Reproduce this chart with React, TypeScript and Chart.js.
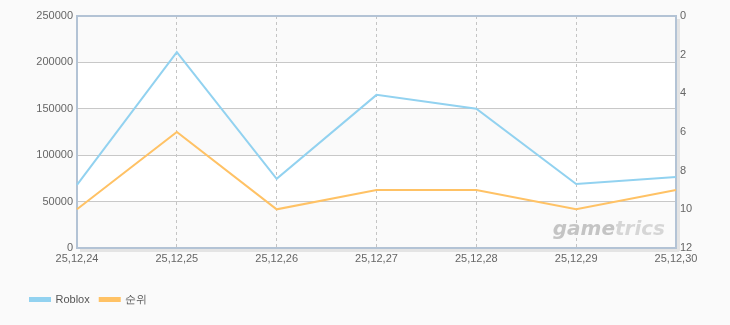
import React, { useEffect, useRef } from "react";
import { Chart, registerables } from "chart.js";

Chart.register(...registerables);

const categories = ["25,12,24", "25,12,25", "25,12,26", "25,12,27", "25,12,28", "25,12,29", "25,12,30"];
const robloxValues = [68000, 211000, 74500, 165000, 150000, 69000, 76500];
const rankValues = [10, 6, 10, 9, 9, 10, 9];
const leftTicks = [0, 50000, 100000, 150000, 200000, 250000];
const rightTicks = [0, 2, 4, 6, 8, 10, 12];
const seriesNames = ["Roblox", "순위"];
const watermarkParts = ["game", "trics"];

const FONT = "'Liberation Sans', Arial, sans-serif";

const decorPlugin = {
  id: "decor",
  beforeDraw(chart: any) {
    const { ctx, chartArea, scales } = chart;
    const { left, right, top, bottom } = chartArea;
    const y = scales.y;
    ctx.save();
    // shadow
    ctx.fillStyle = "#e4e4e4";
    ctx.fillRect(left + 3, bottom + 1, right - left, 3);
    ctx.fillRect(right + 1, top + 3, 3, bottom - top);
    // bands
    for (let i = 0; i < leftTicks.length - 1; i++) {
      const y1 = y.getPixelForValue(leftTicks[i]);
      const y2 = y.getPixelForValue(leftTicks[i + 1]);
      ctx.fillStyle = i % 2 === 0 ? "#fafafa" : "#ffffff";
      ctx.fillRect(left, y2, right - left, y1 - y2);
    }
    ctx.restore();
  },
  beforeDatasetsDraw(chart: any) {
    const { ctx, chartArea } = chart;
    const { right, bottom } = chartArea;
    ctx.save();
    ctx.font = "italic bold 20px 'DejaVu Sans', sans-serif";
    ctx.textBaseline = "alphabetic";
    const w1 = ctx.measureText(watermarkParts[0]).width;
    const w2 = ctx.measureText(watermarkParts[1]).width;
    const x0 = right - 11 - w1 - w2;
    const yb = bottom - 13;
    ctx.fillStyle = "#c4c4c4";
    ctx.fillText(watermarkParts[0], x0, yb);
    ctx.fillStyle = "#d6d6d6";
    ctx.fillText(watermarkParts[1], x0 + w1, yb);
    ctx.restore();
    // border
    const { left, top } = chartArea;
    ctx.save();
    ctx.strokeStyle = "#b3c3d5";
    ctx.lineWidth = 2;
    ctx.strokeRect(left, top, right - left, bottom - top);
    ctx.restore();
  },
};

export default function App() {
  const ref = useRef<HTMLCanvasElement | null>(null);
  useEffect(() => {
    document.body.style.margin = "0";
    document.body.style.background = "#fafafa";
    const canvas = ref.current;
    if (!canvas) return;
    const chart = new Chart(canvas, {
      type: "line",
      data: {
        labels: categories,
        datasets: [
          {
            label: seriesNames[0],
            data: robloxValues,
            borderColor: "#92d2f0",
            backgroundColor: "#92d2f0",
            borderWidth: 2,
            pointRadius: 0,
            tension: 0,
            yAxisID: "y",
          },
          {
            label: seriesNames[1],
            data: rankValues,
            borderColor: "#ffc265",
            backgroundColor: "#ffc265",
            borderWidth: 2,
            pointRadius: 0,
            tension: 0,
            yAxisID: "y1",
          },
        ],
      },
      options: {
        animation: false,
        responsive: false,
        maintainAspectRatio: false,
        layout: { padding: { left: 20, right: 0, top: 16, bottom: 10 } },
        plugins: {
          legend: {
            position: "bottom",
            align: "start",
            labels: {
              boxWidth: 20,
              boxHeight: 3,
              padding: 10,
              color: "#555",
              font: { family: FONT, size: 11 },
            },
          },
          tooltip: { enabled: false },
        },
        scales: {
          x: {
            type: "category",
            offset: false,
            grid: { color: "#c4c4c4", drawTicks: false, lineWidth: 1 },
            border: { display: false, dash: [3, 3] },
            ticks: {
              color: "#666",
              font: { family: FONT, size: 11 },
              padding: 4,
              maxRotation: 0,
              autoSkip: false,
            },
            afterFit: (s: any) => {
              s.height = 36;
            },
          },
          y: {
            position: "left",
            min: 0,
            max: 250000,
            afterBuildTicks: (s: any) => {
              s.ticks = leftTicks.map((v) => ({ value: v }));
            },
            grid: { color: "#c8c8c8", drawTicks: false },
            border: { display: false },
            ticks: {
              color: "#666",
              font: { family: FONT, size: 11 },
              padding: 4,
              callback: (v: any) => String(v),
            },
            afterFit: (s: any) => {
              s.width = 57;
            },
          },
          y1: {
            position: "right",
            min: 0,
            max: 12,
            reverse: true,
            afterBuildTicks: (s: any) => {
              s.ticks = rightTicks.map((v) => ({ value: v }));
            },
            grid: { drawOnChartArea: false, drawTicks: false },
            border: { display: false },
            ticks: {
              color: "#666",
              font: { family: FONT, size: 11 },
              padding: 4,
              callback: (v: any) => String(v),
            },
            afterFit: (s: any) => {
              s.width = 54;
            },
          },
        },
      },
      plugins: [decorPlugin],
    });
    return () => chart.destroy();
  }, []);
  return (
    <div style={{ width: 730, height: 325, background: "#fafafa" }}>
      <canvas ref={ref} width={730} height={325} style={{ display: "block" }} />
    </div>
  );
}
